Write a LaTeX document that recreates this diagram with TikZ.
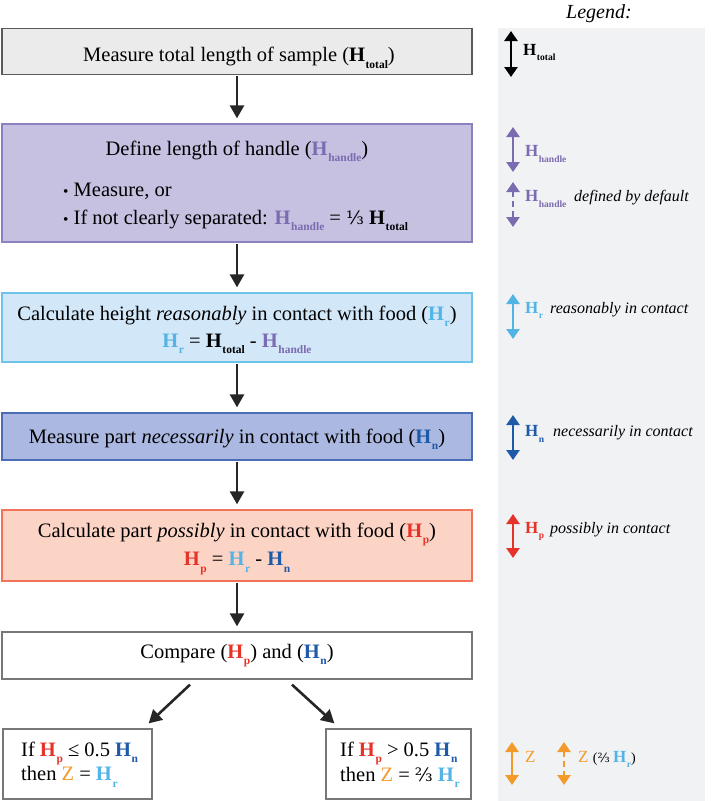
\documentclass[tikz,border=0pt]{standalone}
\usepackage{fontspec}
\usepackage{graphicx}
\setmainfont{Liberation Serif}
\newfontfamily\djs{DejaVu Serif}
\usetikzlibrary{arrows.meta}
\definecolor{grayf}{HTML}{EBEBEB}
\definecolor{grayd}{HTML}{5A5A5A}
\definecolor{purf}{HTML}{C6C0E1}
\definecolor{purd}{HTML}{8C80C0}
\definecolor{bluef}{HTML}{D2E7F8}
\definecolor{blued}{HTML}{6EC3EA}
\definecolor{nblf}{HTML}{ABB8E1}
\definecolor{nbld}{HTML}{4A6DB5}
\definecolor{salf}{HTML}{FCD4C5}
\definecolor{sald}{HTML}{F0735A}
\definecolor{whd}{HTML}{777777}
\definecolor{legbg}{HTML}{F1F2F4}
\definecolor{hpur}{HTML}{7B6BB0}
\definecolor{hr}{HTML}{52B4E5}
\definecolor{hn}{HTML}{1E5AA8}
\definecolor{hp}{HTML}{E6332A}
\definecolor{zor}{HTML}{F39A2A}
\newcommand{\HH}[2]{\textcolor{#1}{\textbf{H}\kern0.03em\raisebox{-0.32em}{\scalebox{0.56}{\textbf{#2}}}}}
\newcommand{\third}{{\djs\scalebox{0.9}{⅓}}}
\newcommand{\twothird}{{\djs\scalebox{0.9}{⅔}}}
\begin{document}
\begin{tikzpicture}[x=1pt,y=-1pt,
  box/.style={draw, line width=1.3pt, minimum width=470pt, inner sep=0pt},
  smallbox/.style={draw=whd, line width=1.3pt, inner sep=0pt, fill=white},
  txt/.style={inner sep=0pt, anchor=base, font=\fontsize{20.5}{24}\selectfont},
  ltxt/.style={txt, anchor=base west},
  flow/.style={-{Triangle[width=14pt,length=13pt]}, line width=2.6pt, black!85, shorten >=5pt, shorten <=1pt},
  leg/.style={{Triangle[width=13pt,length=10pt]}-{Triangle[width=13pt,length=10pt]}, line width=2.8pt},
  legtext/.style={anchor=base west, inner sep=0pt, font=\fontsize{17}{20}\selectfont},
  legit/.style={font=\fontsize{16}{18}\selectfont\itshape}]
\useasboundingbox (0,0) rectangle (710,801);
\fill[legbg] (498,28) rectangle (705,801);
\node[inner sep=0pt, anchor=base, font=\fontsize{20}{22}\selectfont\itshape] (legtitle) at (599,18) {Legend:};

% flow boxes
\node[box, fill=grayf, draw=grayd, minimum height=46pt] (b1) at (237,51.5) {};
\node[txt] (b1t) at (239,61.7) {Measure total length of sample (\HH{black}{total})};

\node[box, fill=purf, draw=purd, minimum height=118pt] (b2) at (237,183) {};
\node[txt] (b2t) at (237,155) {Define length of handle (\HH{hpur}{handle})};
\node[ltxt] (b2a) at (63,196) {{\scalebox{0.75}{\textbullet}}\ Measure, or};
\node[ltxt] (b2b) at (63,224) {{\scalebox{0.75}{\textbullet}}\ If not clearly separated: \HH{hpur}{handle} = \third\ \HH{black}{total}};

\node[box, fill=bluef, draw=blued, minimum height=69pt] (b3) at (237,327.5) {};
\node[txt] (b3t) at (237,320) {Calculate height \textit{reasonably} in contact with food (\HH{hr}{r})};
\node[txt] (b3u) at (237,347) {\HH{hr}{r} = \HH{black}{total} - \HH{hpur}{handle}};

\node[box, fill=nblf, draw=nbld, minimum height=47pt] (b4) at (237,436.5) {};
\node[txt] (b4t) at (237,443.3) {Measure part \textit{necessarily} in contact with food (\HH{hn}{n})};

\node[box, fill=salf, draw=sald, minimum height=71pt] (b5) at (237,545.5) {};
\node[txt] (b5t) at (237,537.3) {Calculate part \textit{possibly} in contact with food (\HH{hp}{p})};
\node[txt] (b5u) at (237,565.7) {\HH{hp}{p} = \HH{hr}{r} - \HH{hn}{n}};

\node[box, fill=white, draw=whd, minimum height=47pt] (b6) at (237,655.5) {};
\node[txt] (b6t) at (237,658.3) {Compare (\HH{hp}{p}) and (\HH{hn}{n})};

\node[smallbox, minimum width=149pt, minimum height=70pt] (b7) at (77.5,764) {};
\node[ltxt] (b7t) at (21,756) {If \HH{hp}{p} ≤ 0.5 \HH{hn}{n}};
\node[ltxt] (b7u) at (21,780.5) {then \textcolor{zor}{Z} = \HH{hr}{r}};

\node[smallbox, minimum width=145pt, minimum height=70pt] (b8) at (398.5,764) {};
\node[ltxt] (b8t) at (340,756) {If \HH{hp}{p} > 0.5 \HH{hn}{n}};
\node[ltxt] (b8u) at (340,781) {then \textcolor{zor}{Z} = \twothird\ \HH{hr}{r}};

% flow arrows
\draw[flow] (b1) -- (b2);
\draw[flow] (b2) -- (b3);
\draw[flow] (b3) -- (b4);
\draw[flow] (b4) -- (b5);
\draw[flow] (b5) -- (b6);
\draw[flow, shorten >=0pt, shorten <=0pt] ([xshift=-47pt,yshift=-5pt]b6.south) -- ([xshift=-4pt,yshift=5pt]b7.north east);
\draw[flow, shorten >=0pt, shorten <=0pt] ([xshift=55pt,yshift=-5pt]b6.south) -- ([xshift=9pt,yshift=5pt]b8.north west);

% legend
\coordinate (l1a) at (511,31); \coordinate (l1b) at (511,77);
\draw[leg, black] (l1a) -- (l1b);
\node[legtext] (l1t) at (523,55) {\HH{black}{total}};

\coordinate (l2a) at (513,127); \coordinate (l2b) at (513,172);
\draw[leg, hpur] (l2a) -- (l2b);
\node[legtext] (l2t) at (525,156.7) {\HH{hpur}{handle}};

\coordinate (l3a) at (513,182); \coordinate (l3b) at (513,227);
\draw[leg, hpur, dash pattern=on 6pt off 4pt] (l3a) -- (l3b);
\node[legtext] (l3t) at (525,201.7) {\HH{hpur}{handle}};
\node[legtext, legit] (l3x) at (574,201.7) {defined by default};

\coordinate (l4a) at (513,294); \coordinate (l4b) at (513,339);
\draw[leg, hr] (l4a) -- (l4b);
\node[legtext] (l4t) at (525,313.3) {\HH{hr}{r}};
\node[legtext, legit] (l4x) at (550,313.3) {reasonably in contact};

\coordinate (l5a) at (513,415); \coordinate (l5b) at (513,460);
\draw[leg, hn] (l5a) -- (l5b);
\node[legtext] (l5t) at (525,436.7) {\HH{hn}{n}};
\node[legtext, legit] (l5x) at (553,436.7) {necessarily in contact};

\coordinate (l6a) at (513,514); \coordinate (l6b) at (513,558);
\draw[leg, hp] (l6a) -- (l6b);
\node[legtext] (l6t) at (525,533.3) {\HH{hp}{p}};
\node[legtext, legit] (l6x) at (550,533.3) {possibly in contact};

\coordinate (l7a) at (512,742); \coordinate (l7b) at (512,785);
\draw[leg, zor] (l7a) -- (l7b);
\node[legtext] (l7t) at (525,762) {\textcolor{zor}{Z}};

\coordinate (l8a) at (564,742); \coordinate (l8b) at (564,785);
\draw[leg, zor, dash pattern=on 6pt off 4pt] (l8a) -- (l8b);
\node[legtext] (l8t) at (578,762) {\textcolor{zor}{Z} {\fontsize{14}{16}\selectfont(\twothird\ }\HH{hr}{r}{\fontsize{14}{16}\selectfont)}};
\end{tikzpicture}
\end{document}
